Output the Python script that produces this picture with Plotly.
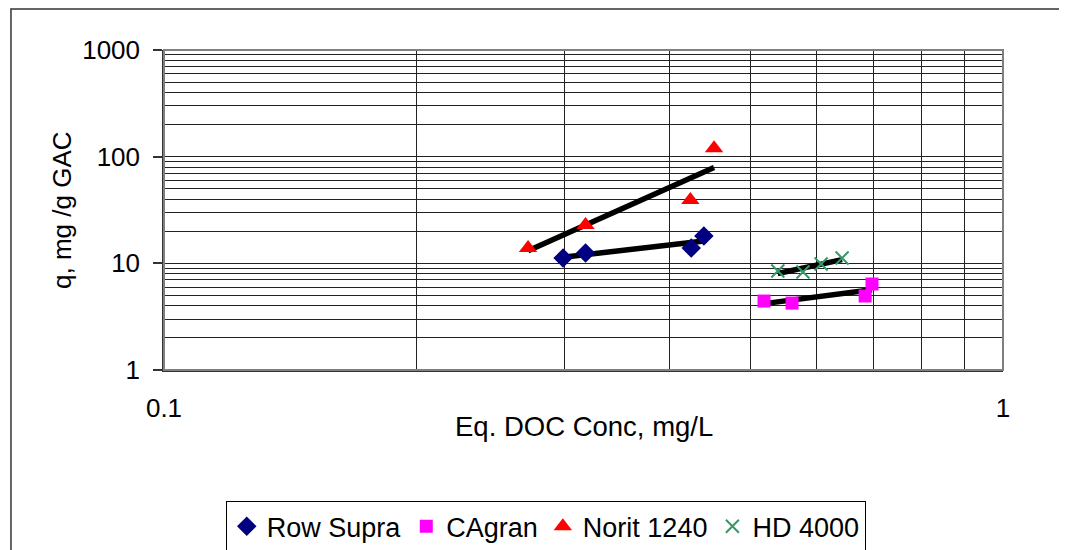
import numpy as np
import plotly.graph_objects as go

# ---- data ----
row_supra_x = [0.299, 0.318, 0.425, 0.440]
row_supra_y = [11.2, 12.5, 13.9, 18.0]

cagran_x = [0.519, 0.5605, 0.685, 0.698]
cagran_y = [4.43, 4.24, 4.94, 6.40]

norit_x = [0.2716, 0.318, 0.424, 0.4525]
norit_y = [13.9, 22.9, 39.2, 120.0]

hd_x = [0.539, 0.5776, 0.607, 0.643]
hd_y = [8.47, 8.28, 9.85, 11.2]

series_names = ["Row Supra", "CAgran", "Norit 1240", "HD 4000"]
x_major = [0.1, 1]
x_minor = [0.2, 0.3, 0.4, 0.5, 0.6, 0.7, 0.8, 0.9]
y_major = [1, 10, 100, 1000]
y_minor = [m * d for d in [1, 10, 100] for m in range(2, 10)]

FONT = "Liberation Sans, Arial, sans-serif"

series = [
    (row_supra_x, row_supra_y, series_names[0], "diamond", "#000080", 15),
    (cagran_x, cagran_y, series_names[1], "square", "#FF00FF", 13),
    (norit_x, norit_y, series_names[2], "triangle-up", "#FF0000", 16),
    (hd_x, hd_y, series_names[3], "x-thin", "#339966", 13),
]

fig = go.Figure()

# power trend lines (least squares in log-log space)
for xs, ys, name, sym, col, sz in series:
    lx, ly = np.log10(xs), np.log10(ys)
    b, a = np.polyfit(lx, ly, 1)
    xe = np.array([min(xs), max(xs)])
    fig.add_trace(go.Scatter(x=xe, y=10 ** (a + b * np.log10(xe)), mode="lines",
                             line=dict(color="black", width=5.5), showlegend=False,
                             hoverinfo="skip"))

for xs, ys, name, sym, col, sz in series:
    marker = dict(symbol=sym, color=col, size=sz)
    if sym == "x-thin":
        marker["line"] = dict(color=col, width=2)
    fig.add_trace(go.Scatter(x=xs, y=ys, mode="markers", name=name, marker=marker))

# plot-area frame (top/right grey) and outer chart border
fig.add_shape(type="rect", xref="paper", yref="paper", x0=0, y0=0, x1=1, y1=1,
              line=dict(color="#808080", width=2), layer="above")
fig.add_shape(type="rect", xref="paper", yref="paper", x0=-0.1824, y0=-0.7, x1=1.2, y1=1.128,
              line=dict(color="#333333", width=1.5), layer="below")

fig.update_xaxes(
    type="log", range=[-1, 0],
    tickvals=x_major, ticktext=["0.1", "1"],
    ticks="", showline=True, linecolor="#333333", linewidth=1.5,
    showgrid=False, zeroline=False,
    minor=dict(tickvals=x_minor, showgrid=True, gridcolor="#222222", gridwidth=1, ticks=""),
    tickfont=dict(family=FONT, size=26, color="black"),
    ticklabelstandoff=14,
)
fig.update_yaxes(
    type="log", range=[0, 3],
    tickvals=y_major, ticktext=["1", "10", "100", "1000"],
    ticks="outside", ticklen=9, tickcolor="#333333", tickwidth=1.5,
    showline=True, linecolor="#333333", linewidth=1.5,
    showgrid=True, gridcolor="#222222", gridwidth=1, zeroline=False,
    minor=dict(tickvals=y_minor, showgrid=True, gridcolor="#222222", gridwidth=1, ticks=""),
    tickfont=dict(family=FONT, size=26, color="black"),
    ticklabelstandoff=8,
)

fig.add_annotation(text="Eq. DOC Conc, mg/L", xref="paper", yref="paper", x=0.5, y=-0.175,
                   xanchor="center", yanchor="middle", showarrow=False,
                   font=dict(family=FONT, size=27.5, color="black"))
fig.add_annotation(text="q, mg /g GAC", xref="paper", yref="paper", x=-0.1216, y=0.5,
                   xanchor="center", yanchor="middle", showarrow=False, textangle=-90,
                   font=dict(family=FONT, size=26, color="black"))

fig.update_layout(
    width=1067, height=550,
    margin=dict(l=156, r=72, t=42, b=188, autoexpand=False),
    paper_bgcolor="white", plot_bgcolor="white",
    font=dict(family=FONT, color="black"),
    legend=dict(orientation="h", x=0.455, xanchor="center", y=-0.41, yanchor="top",
                bordercolor="black", borderwidth=1, bgcolor="white",
                font=dict(family=FONT, size=27, color="black"),
                itemwidth=30, tracegroupgap=0),
)

fig.write_html("out.html")
